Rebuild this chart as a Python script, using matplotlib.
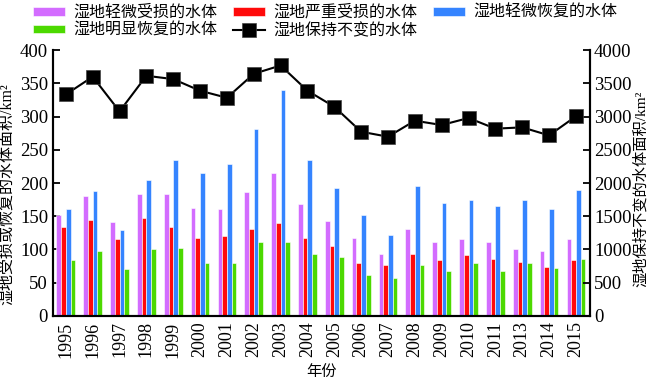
import matplotlib.pyplot as plt
import numpy as np

plt.rcParams['font.family'] = ['Liberation Serif', 'Noto Sans CJK SC']
plt.rcParams['axes.unicode_minus'] = False

years = ['1995', '1996', '1997', '1998', '1999', '2000', '2001', '2002', '2003', '2004',
         '2005', '2006', '2007', '2008', '2009', '2010', '2011', '2013', '2014', '2015']

# left axis (km2)
slight_damage = [152, 181, 141, 184, 184, 163, 161, 186, 215, 168,
                 143, 118, 93, 131, 111, 116, 111, 100, 98, 116]
severe_damage = [134, 145, 116, 147, 134, 118, 120, 131, 140, 118,
                 105, 79, 77, 93, 84, 91, 86, 81, 74, 84]
slight_recover = [161, 188, 129, 204, 234, 215, 229, 281, 340, 234,
                  193, 152, 122, 196, 170, 174, 165, 174, 161, 190]
obvious_recover = [84, 98, 71, 100, 102, 79, 79, 111, 111, 93,
                   88, 61, 57, 77, 68, 79, 68, 79, 72, 86]
# right axis (km2)
unchanged = [3333, 3600, 3078, 3614, 3564, 3389, 3283, 3644, 3769, 3389,
             3148, 2772, 2697, 2938, 2873, 2979, 2818, 2838, 2717, 3004]

labels = ['湿地轻微受损的水体', '湿地严重受损的水体', '湿地轻微恢复的水体',
          '湿地明显恢复的水体', '湿地保持不变的水体']
colors = ['#d36cff', '#ff0a0a', '#3584ff', '#4cd900']

fig = plt.figure(figsize=(6.5, 3.77), dpi=100)
ax = fig.add_axes([0.0815, 0.162, 0.826, 0.705])
ax2 = ax.twinx()

x = np.arange(len(years))
w = 0.175
bars = []
for i, (vals, c) in enumerate(zip([slight_damage, severe_damage, slight_recover, obvious_recover], colors)):
    b = ax.bar(x + (i - 1.5) * w, vals, w, color=c, edgecolor='white', linewidth=0.4, zorder=2)
    bars.append(b)

line, = ax2.plot(x, unchanged, color='black', lw=1.5, marker='s', markersize=9.5,
                 markerfacecolor='black', markeredgecolor='#444444', markeredgewidth=0.5)

ax.set_xlim(-0.48, 19.52)
ax.set_ylim(0, 400)
ax2.set_ylim(0, 4000)
ax.set_yticks(range(0, 401, 50))
ax2.set_yticks(range(0, 4001, 500))
ax.set_xticks(x)
ax.set_xticklabels(years, rotation=90, fontsize=13)
ax.tick_params(axis='x', length=0, pad=4)
ax.tick_params(axis='y', direction='in', length=5, width=1.3, labelsize=13.5)
ax2.tick_params(axis='y', direction='in', length=5, width=1.3, labelsize=13.5, pad=3)

for a in (ax, ax2):
    a.spines['top'].set_visible(False)
    for s in ('left', 'right', 'bottom'):
        a.spines[s].set_linewidth(1.5)

ax.set_xlabel('年份', fontsize=11)
ax.xaxis.set_label_coords(0.5, -0.183)
ax.set_ylabel('湿地受损或恢复的水体面积/km²', fontsize=11.5)
ax.yaxis.set_label_coords(-0.07, 0.46)
ax2.set_ylabel('湿地保持不变的水体面积/km²', fontsize=11)
ax2.yaxis.set_label_coords(1.081, 0.48)

handles = [bars[0], bars[3], bars[1], line, bars[2]]
hl = [labels[0], labels[3], labels[1], labels[4], labels[2]]
fig.legend(handles, hl, ncol=3, loc='upper center', bbox_to_anchor=(0.5, 1.025),
           frameon=False, fontsize=11.5, handlelength=2.0, handleheight=0.45,
           columnspacing=1.0, handletextpad=0.5, labelspacing=0.12)

fig.savefig('out.png', dpi=100)
